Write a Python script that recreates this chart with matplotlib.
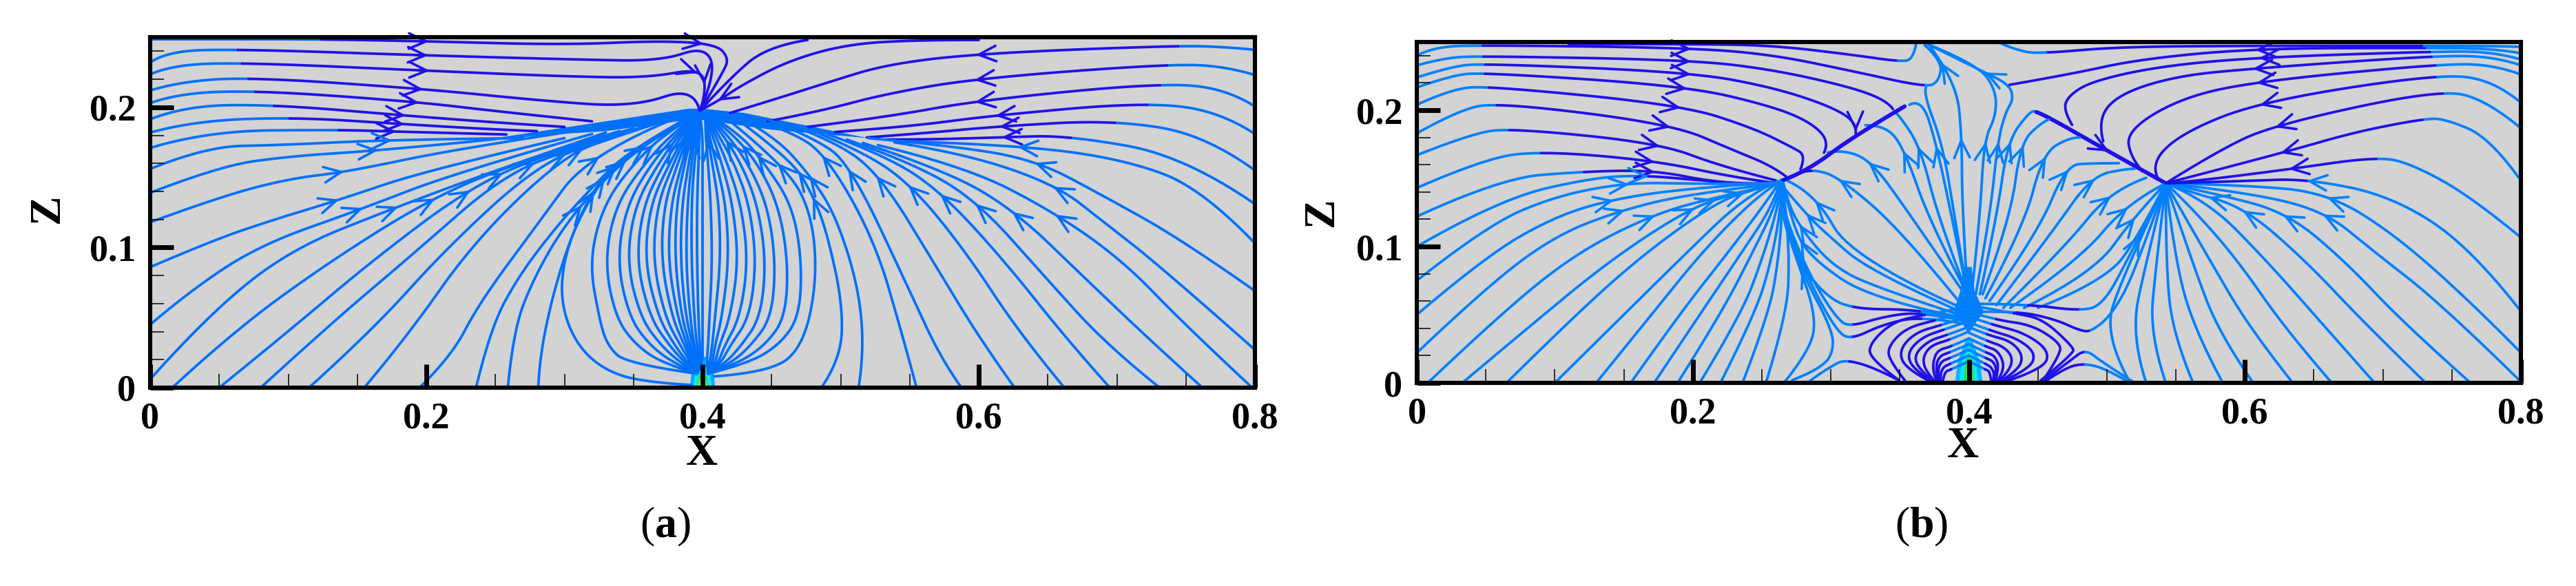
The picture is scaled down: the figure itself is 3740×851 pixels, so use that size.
import numpy as np
import matplotlib
matplotlib.use('Agg')
import matplotlib.pyplot as plt

plt.rcParams['font.family'] = ['Liberation Serif', 'DejaVu Serif']
plt.rcParams['mathtext.fontset'] = 'custom'
plt.rcParams['mathtext.rm'] = 'Liberation Serif'
plt.rcParams['mathtext.bf'] = 'Liberation Serif:bold'

LIGHT_A = '#0070fb'
LIGHT_B = '#0080ff'
DARK = '#2010e8'
GREY = '#d3d3d3'

x_ticks = [0, 0.2, 0.4, 0.6, 0.8]
x_labels = ['0', '0.2', '0.4', '0.6', '0.8']
z_ticks = [0, 0.1, 0.2]
z_labels = ['0', '0.1', '0.2']

# panel (a): streamlines, all in flow direction
a_light = [
    [(0, .2485), (.06, .2485), (.125, .2485)],
    [(0, .232), (.012, .24), (.063, .2415)],
    [(0, .2235), (.015, .23), (.066, .232)],
    [(0, .212), (.02, .218), (.0716, .2216)],
    [(0, .203), (.02, .21), (.0787, .212)],
    [(0, .1915), (.025, .201), (.0887, .202)],
    [(0, .182), (.03, .19), (.103, .193)],
    [(0, .171), (.04, .183), (.1345, .184)],
    [(0, .156), (.04, .172), (.094, .173), (.1775, .177), (.27, .178)],
    [(0, .139), (.05, .158), (.1, .165), (.163, .169), (.27, .179), (.34, .188)],
    [(0, .118), (.05, .136), (.1, .149), (.143, .154), (.22, .17), (.32, .185)],
    [(0, .086), (.045, .105), (.09, .12), (.137, .134), (.2, .155), (.3, .178)],
    [(0, .045), (.03, .07), (.08, .102), (.152, .127), (.22, .153), (.32, .181)],
    [(0, .006), (.04, .05), (.1, .098), (.1775, .1285), (.25, .155), (.33, .182)],
    [(.016, 0), (.06, .04), (.13, .09), (.205, .136), (.27, .162), (.34, .183)],
    [(.05, 0), (.1, .04), (.16, .09), (.231, .1426), (.29, .168), (.35, .185)],
    [(.08, 0), (.13, .045), (.19, .095), (.256, .152), (.31, .172), (.36, .187)],
    [(.115, 0), (.16, .04), (.215, .1), (.28, .1586), (.33, .178), (.37, .19)],
    [(.155, 0), (.185, .035), (.235, .105), (.30, .166), (.34, .18), (.375, .191)],
    [(.195, 0), (.218, .022), (.238, .06), (.28, .116), (.318, .167), (.38, .192)],
    [(.236, 0), (.246, .041), (.266, .0786), (.295, .116), (.323, .146), (.347, .169), (.385, .19)],
    [(.259, 0), (.263, .041), (.278, .0786), (.30, .116), (.33, .15), (.36, .175), (.39, .192)],
    [(.281, 0), (.282, .02), (.29, .06), (.302, .1), (.317, .135), (.34, .165), (.385, .19)],
    [(.392, .002), (.37, .003), (.335, .009), (.31, .028), (.297, .06), (.30, .095), (.315, .13), (.34, .165), (.385, .19)],
    [(.8, .241), (.78, .243), (.742, .244)],
    [(.8, .223), (.78, .229), (.739, .231)],
    [(.8, .2006), (.78, .213), (.732, .2175)],
    [(.8, .181), (.775, .197), (.72, .2037)],
    [(.8, .155), (.765, .18), (.698, .191)],
    [(.8, .131), (.75, .165), (.665, .18)],
    [(.8, .103), (.762, .142), (.705, .163), (.626, .1733), (.539, .176)],
    [(.8, .069), (.748, .105), (.69, .137), (.64, .163), (.576, .173), (.52, .178)],
    [(.8, .027), (.7335, .085), (.69, .1186), (.656, .1447), (.59, .167), (.539, .175)],
    [(.798, 0), (.748, .046), (.705, .09), (.655, .125), (.59, .158), (.527, .173)],
    [(.762, 0), (.725, .033), (.676, .079), (.626, .1264), (.576, .155), (.516, .1746)],
    [(.731, 0), (.693, .03), (.648, .079), (.599, .133), (.553, .16), (.5045, .177)],
    [(.695, 0), (.665, .033), (.619, .09), (.573, .1395), (.533, .1655), (.49, .181)],
    [(.662, 0), (.63, .038), (.59, .098), (.55, .146), (.513, .17), (.473, .186)],
    [(.626, 0), (.602, .033), (.57, .085), (.529, .1512), (.496, .176), (.459, .189)],
    [(.5875, 0), (.573, .02), (.55, .069), (.507, .159), (.4816, .178), (.447, .1915)],
    [(.555, 0), (.5446, .038), (.5245, .1056), (.489, .167), (.4616, .1837), (.433, .193)],
    [(.513, 0), (.517, .025), (.513, .0718), (.496, .124), (.477, .1525), (.453, .1785), (.427, .193)],
    [(.486, 0), (.5, .02), (.5016, .059), (.49, .111), (.48, .137), (.4644, .163), (.4215, .194)],
    [(.408, .008), (.45, .011), (.473, .03), (.483, .077), (.479, .125), (.46, .158), (.42, .19)],
]
a_dark = [
    [(.125, .2485), (.203, .247), (.30, .2445), (.37, .2475), (.41, .245), (.419, .235), (.415, .225), (.398, .197)],
    [(.063, .2415), (.2, .237), (.31, .234), (.37, .233), (.4015, .2436), (.41, .225), (.398, .197)],
    [(.066, .232), (.203, .226), (.3, .222), (.36, .221), (.3986, .228), (.403, .212), (.398, .197)],
    [(.0716, .2216), (.2, .213), (.28, .205), (.35, .2), (.3943, .215), (.398, .197)],
    [(.0787, .212), (.192, .204), (.252, .197), (.32, .19)],
    [(.0887, .202), (.186, .194), (.252, .189), (.30, .186)],
    [(.103, .193), (.183, .188), (.252, .184), (.28, .183)],
    [(.1345, .184), (.183, .1825), (.258, .1806)],
    [(.476, .248), (.447, .2436), (.419, .22), (.3986, .198)],
    [(.6, .248), (.555, .248), (.5045, .245), (.4616, .233), (.427, .215), (.4115, .2045), (.3986, .198)],
    [(.742, .244), (.6, .2384), (.533, .2306), (.49, .2175), (.45, .205), (.42, .196)],
    [(.739, .231), (.599, .2207), (.533, .2097), (.4845, .197), (.447, .19)],
    [(.732, .2175), (.6, .205), (.533, .193), (.476, .186)],
    [(.72, .2037), (.609, .194), (.5475, .186), (.496, .1824)],
    [(.698, .191), (.613, .1863), (.5618, .1816), (.519, .1785)],
    [(.665, .18), (.615, .1785), (.5618, .177), (.533, .177)],
]
a_nest_z = [.017, .03, .05, .09, .13, .16, .183]
a_nest_left = [
    [.345, .331, .325, .318, .328, .35, .375],
    [.372, .352, .337, .329, .337, .358, .38],
    [.38, .362, .347, .338, .345, .363, .383],
    [.385, .37, .355, .345, .351, .368, .385],
    [.388, .376, .362, .352, .357, .372, .387],
    [.39, .38, .368, .358, .362, .376, .389],
    [.392, .384, .373, .364, .367, .379, .39],
    [.393, .387, .378, .37, .372, .382, .391],
    [.394, .389, .382, .375, .377, .385, .392],
    [.395, .391, .385, .38, .381, .387, .393],
    [.396, .393, .388, .384, .385, .39, .394],
    [.397, .394, .391, .388, .389, .392, .395],
    [.398, .396, .394, .392, .392, .394, .397],
    [.399, .398, .397, .396, .396, .397, .398],
    [.4, .4, .4, .4, .4, .4, .4],
]
a_nest_right = [
    [.432, .455, .47, .472, .465, .445, .425],
    [.425, .445, .46, .462, .455, .44, .42],
    [.42, .435, .45, .453, .447, .433, .416],
    [.416, .428, .442, .446, .44, .428, .413],
    [.413, .42, .434, .439, .434, .423, .41],
    [.411, .416, .427, .433, .428, .418, .408],
    [.409, .412, .42, .426, .422, .414, .406],
    [.407, .409, .414, .419, .417, .41, .404],
    [.405, .407, .409, .413, .412, .407, .403],
    [.403, .404, .405, .407, .406, .404, .402],
]
a_ridge_x = [.25, .33, .39, .4, .43, .52, .45, .40, .39, .33, .25]
a_ridge_z = [.178, .190, .199, .199, .196, .178, .184, .191, .191, .183, .178]
a_arrows = [
    (.2033, .247), (.2019, .2376), (.2, .2264), (.2, .2135), (.192, .2047), (.1875, .1967), (.186, .1896),
    (.1815, .1839), (.176, .178), (.166, .169), (.143, .153), (.137, .1304), (.152, .1266), (.1775, .1285),
    (.205, .136), (.231, .1426), (.256, .152), (.28, .1586), (.30, .166), (.314, .168), (.321, .167),
    (.33, .15), (.322, .14), (.312, .131), (.338, .158), (.347, .1616), (.358, .171), (.366, .173),
    (.378, .175), (.388, .179), (.395, .179), (.4015, .2436), (.3986, .228), (.3943, .215), (.4115, .2045),
    (.6, .2384), (.599, .2207), (.6, .205), (.609, .194), (.613, .1863), (.615, .1785), (.626, .1733),
    (.64, .163), (.656, .1447), (.655, .125), (.626, .1264), (.599, .133), (.573, .1395), (.55, .146),
    (.529, .1512), (.507, .159), (.489, .167), (.477, .1525), (.48, .137), (.466, .1525), (.4516, .159),
    (.4387, .1655), (.427, .172), (.4158, .176), (.4043, .177),
]

# panel (b)
b_light = [
    [(0, .24), (.012, .2465), (.05, .2477)],
    [(0, .2328), (.02, .2385), (.048, .2397)],
    [(0, .224), (.025, .232), (.048, .2343)],
    [(0, .2167), (.025, .2255), (.048, .2277)],
    [(0, .204), (.025, .2155), (.052, .2178)],
    [(0, .183), (.03, .2), (.059, .2058)],
    [(0, .167), (.04, .183), (.069, .1868)],
    [(0, .143), (.05, .165), (.092, .17)],
    [(0, .122), (.06, .15), (.12, .155)],
    [(0, .1), (.06, .135), (.13, .151), (.167, .152)],
    [(0, .075), (.05, .115), (.1, .137), (.153, .147), (.2, .146), (.25, .146)],
    [(0, .05), (.05, .093), (.1, .122), (.143, .135), (.2, .143), (.26, .147)],
    [(0, .022), (.05, .07), (.1, .108), (.149, .127), (.2, .139), (.26, .146)],
    [(.008, 0), (.06, .05), (.115, .095), (.172, .124), (.22, .137), (.258, .145)],
    [(.033, 0), (.08, .04), (.14, .09), (.199, .1289), (.235, .14), (.26, .146)],
    [(.065, 0), (.115, .05), (.165, .095), (.2176, .1329), (.245, .142), (.262, .147)],
    [(.1, 0), (.145, .045), (.19, .09), (.239, .138), (.262, .148)],
    [(.13, 0), (.17, .05), (.21, .1), (.25, .14), (.264, .148)],
    [(.155, 0), (.19, .05), (.225, .095), (.255, .135), (.264, .149)],
    [(.172, 0), (.205, .05), (.235, .095), (.258, .13), (.264, .149)],
    [(.189, 0), (.22, .05), (.243, .095), (.26, .13), (.265, .149)],
    [(.205, 0), (.235, .05), (.25, .09), (.262, .13), (.265, .149)],
    [(.22, 0), (.245, .05), (.257, .09), (.264, .13), (.265, .149)],
    [(.236, 0), (.255, .05), (.262, .09), (.265, .13), (.265, .149)],
    [(.253, 0), (.268, .05), (.27, .09), (.267, .13), (.265, .149)],
    [(.266, 0), (.286, .025), (.289, .051), (.275, .091), (.262, .131), (.265, .149)],
    [(.272, .002), (.295, .011), (.303, .027), (.298, .045), (.28, .0789), (.266, .123), (.265, .149)],
    [(.283, 0), (.295, .0092), (.315, .02)],
    [(.349, .2357), (.36, .237), (.362, .25)],
    [(.399, .047), (.364, .054)],
    [(.315, .054), (.295, .065), (.275, .091), (.263, .131), (.265, .149)],
    [(.399, .045), (.366, .052)],
    [(.315, .0415), (.306, .045), (.289, .071), (.275, .101), (.263, .135), (.265, .149)],
    [(.399, .043), (.366, .049)],
    [(.315, .0319), (.305, .037), (.286, .071), (.272, .107), (.263, .139), (.265, .149)],
    [(.399, .053), (.315, .091), (.289, .1385), (.269, .148)],
    [(.399, .05), (.329, .081), (.295, .111), (.282, .124), (.266, .143)],
    [(.399, .048), (.329, .071), (.3, .087), (.28, .111), (.269, .131), (.265, .149)],
    [(.399, .047), (.33, .061), (.286, .091), (.272, .115), (.265, .149)],
    [(.399, .052), (.352, .111), (.306, .151), (.286, .157)],
    [(.399, .062), (.355, .127), (.329, .163), (.309, .171), (.298, .169)],
    [(.399, .065), (.372, .117), (.3535, .1708), (.34, .189), (.325, .189)],
    [(.399, .065), (.378, .12), (.365, .1728), (.349, .197), (.346, .199)],
    [(.399, .065), (.388, .12), (.3765, .1748), (.366, .2088), (.357, .204)],
    [(.399, .065), (.39, .12), (.381, .175), (.367, .2125), (.369, .2168)],
    [(.369, .2168), (.378, .2208), (.381, .2358), (.368, .2477)],
    [(.399, .065), (.395, .131), (.395, .179), (.391, .2208), (.372, .2467)],
    [(.402, .065), (.408, .12), (.411, .178), (.4196, .1958), (.4196, .2146), (.4068, .2333), (.37, .2485)],
    [(.405, .065), (.415, .12), (.421, .1771), (.4266, .1985), (.4323, .2079), (.4295, .2186)],
    [(.4295, .2186), (.411, .228), (.37, .2485)],
    [(.408, .065), (.42, .12), (.428, .1771), (.4436, .1985), (.4493, .1998)],
    [(.41, .065), (.43, .12), (.4374, .1758), (.452, .1905), (.4578, .1932)],
    [(.412, .062), (.44, .115), (.4535, .1678), (.4719, .1798), (.4804, .18)],
    [(.415, .06), (.45, .11), (.4705, .1597), (.4889, .1611), (.5087, .1611)],
    [(.42, .057), (.46, .11), (.4889, .1517), (.5144, .1571), (.52, .157)],
    [(.425, .055), (.47, .1), (.5025, .141), (.5285, .1504)],
    [(.43, .055), (.48, .09), (.5144, .1317), (.5427, .1464)],
    [(.44, .055), (.49, .08), (.52, .1223), (.5427, .1464)],
    [(.45, .055), (.5, .075), (.5243, .1103), (.5427, .1464)],
    [(.4, .058), (.4421, .0578)],
    [(.4803, .0527), (.497, .057), (.515, .09), (.5427, .1464)],
    [(.4, .052), (.4338, .0528)],
    [(.4886, .0375), (.5036, .05), (.5202, .0805), (.5427, .1464)],
    [(.4845, .0249), (.497, .0148), (.5202, 0)],
    [(.4845, .0143), (.5003, .0098), (.5169, 0)],
    [(.517, 0), (.4974, .035), (.5115, .0782), (.5427, .1464)],
    [(.5285, 0), (.5172, .035), (.5285, .089), (.5427, .1464)],
    [(.5427, 0), (.531, .035), (.5356, .0862), (.5427, .1464)],
    [(.5625, 0), (.548, .035), (.5427, .0862), (.5427, .1464)],
    [(.584, 0), (.5653, .035), (.5497, .0862), (.5427, .1464)],
    [(.606, 0), (.582, .035), (.5625, .0862), (.5427, .1464)],
    [(.6347, 0), (.605, .038), (.5766, .0862), (.5427, .1464)],
    [(.663, 0), (.6304, .038), (.5936, .0916), (.56, .13), (.5427, .1464)],
    [(.694, 0), (.656, .0434), (.6163, .089), (.5724, .1343), (.5427, .1464)],
    [(.731, 0), (.687, .0434), (.6446, .089), (.5993, .129), (.56, .14), (.5427, .1464)],
    [(.7635, 0), (.7154, .0434), (.6729, .089), (.6304, .125), (.58, .1385), (.5427, .1464)],
    [(.7988, .002), (.7436, .0568), (.6927, .097), (.6573, .1263), (.6, .14), (.5427, .1464)],
    [(.7988, .0234), (.7635, .0596), (.7068, .1103), (.6587, .1397), (.6, .145), (.5427, .1464)],
    [(.7988, .054), (.7635, .0996), (.7068, .137), (.6446, .1498)],
    [(.7988, .1076), (.7635, .137), (.72, .161), (.6955, .1659)],
    [(.7988, .15), (.7776, .1798), (.745, .1937), (.7295, .1937)],
    [(.7988, .1878), (.775, .2075), (.7408, .2153)],
    [(.7988, .2065), (.78, .222), (.74, .2266)],
    [(.7988, .2266), (.78, .2335), (.74, .2338)],
    [(.7988, .2333), (.78, .2395), (.7366, .2399)],
    [(.7988, .2375), (.78, .243), (.735, .243)],
    [(.7988, .242), (.78, .2452), (.73, .2457)],
    [(.7988, .2465), (.77, .2472), (.73, .2472)],
    [(.455, .2418), (.438, .2426), (.4224, .2493)],
]
b_dark = [
    [(.11, .2485), (.2, .2485), (.258, .2475), (.315, .2407), (.349, .2357)],
    [(.05, .2477), (.199, .2457), (.2577, .2407), (.315, .2288), (.369, .2168)],
    [(.048, .2397), (.199, .2368), (.2577, .2298), (.315, .2168), (.341, .2067), (.345, .2008)],
    [(.048, .2343), (.199, .2278), (.2577, .2168), (.3, .2028), (.319, .1908), (.318, .1828)],
    [(.048, .2277), (.195, .2178), (.2577, .2028), (.286, .1908), (.299, .1768), (.295, .1688)],
    [(.052, .2178), (.192, .2038), (.244, .1868), (.272, .1728), (.282, .1668), (.278, .1567)],
    [(.059, .2058), (.185, .1898), (.229, .1708), (.258, .1588), (.268, .151)],
    [(.069, .1868), (.176, .1758), (.22, .1589), (.26, .1485)],
    [(.092, .17), (.173, .1629), (.229, .1509), (.258, .1468)],
    [(.12, .155), (.172, .156), (.216, .147), (.25, .145)],
    [(.167, .152), (.2, .149), (.244, .1455), (.26, .147)],
    [(.286, .157), (.27, .151), (.265, .149)],
    [(.315, .02), (.349, .002)],
    [(.364, .054), (.315, .054)],
    [(.366, .052), (.34, .049), (.315, .0415)],
    [(.366, .049), (.338, .043), (.315, .0319)],
    [(.4338, .0528), (.4621, .0468), (.4803, .0384), (.4886, .0375)],
    [(.4421, .0578), (.4803, .0527)],
    [(.452, 0), (.4737, .0165), (.4845, .0249)],
    [(.4537, 0), (.4703, .0115), (.4845, .0143)],
    [(.73, .2472), (.6035, .2472), (.51, .2465), (.455, .2418)],
    [(.73, .2457), (.6064, .2453), (.523, .2373), (.4747, .2266), (.4295, .2186)],
    [(.735, .243), (.6064, .2386), (.537, .232), (.489, .2212), (.472, .2105), (.4685, .2), (.4748, .1892)],
    [(.7366, .2399), (.6064, .2306), (.551, .2252), (.5087, .2119), (.4932, .1932), (.4974, .1771)],
    [(.74, .2338), (.609, .2212), (.554, .2092), (.5144, .1851), (.5172, .1651), (.526, .155)],
    [(.74, .2266), (.612, .2065), (.555, .1838), (.5314, .1611), (.537, .15)],
    [(.7408, .2153), (.6205, .1891), (.58, .17), (.5427, .1464)],
    [(.7295, .1937), (.679, .1838), (.629, .1691), (.5427, .1464)],
    [(.6955, .1659), (.6295, .1563), (.56, .1475), (.5427, .1464)],
    [(.6446, .1498), (.6, .148), (.5427, .1464)],
]
b_ridges = [
    [(.3535, .2028), (.3164, .1808), (.2834, .1558), (.2662, .1489)],
    [(.4493, .1998), (.5, .1704), (.5427, .1464)],
]
b_loops = [
    [(.3672, .0498), (.3457, .0451), (.329, .03), (.3274, .0182), (.349, .0022)],
    [(.3756, .046), (.354, .04), (.3415, .0266), (.3423, .0165), (.354, .0013)],
    [(.3805, .0426), (.3606, .0367), (.349, .0232), (.3548, .0098), (.3739, 0)],
    [(.3822, .0392), (.3656, .0333), (.355, .0216), (.3598, .0098), (.3747, 0)],
    [(.3839, .035), (.3706, .0308), (.3598, .0199), (.3648, .0089), (.3756, 0)],
    [(.3864, .0317), (.3722, .0274), (.3664, .0182), (.3689, .0081), (.3764, 0)],
    [(.3872, .0266), (.3772, .024), (.3739, .0148), (.3747, .0059), (.3772, 0)],
    [(.3864, .0224), (.3789, .0199), (.3756, .0115), (.378, 0)],
    [(.3864, .0182), (.3797, .0157), (.3772, .0081), (.3789, 0)],
    [(.3864, .014), (.3814, .0115), (.3792, .0059), (.3797, 0)],
    [(.3872, .0098), (.3822, .0081), (.3809, 0)],
    [(.4338, .051), (.4537, .0468), (.4753, .0266), (.4761, .0216), (.452, .0017)],
    [(.4205, .046), (.4454, .0426), (.4653, .03), (.467, .0216), (.4537, .0017)],
    [(.4171, .0426), (.4404, .0367), (.4587, .0232), (.4537, .0098), (.4238, 0)],
    [(.4155, .0384), (.4354, .0325), (.4487, .0216), (.4437, .0098), (.4221, 0)],
    [(.4138, .035), (.4304, .0308), (.4396, .0199), (.4354, .0089), (.4213, 0)],
    [(.413, .0308), (.4254, .0266), (.4321, .0182), (.4288, .0081), (.4205, 0)],
    [(.4121, .0266), (.4205, .024), (.4254, .0148), (.4238, .0059), (.4196, 0)],
    [(.4121, .0224), (.4188, .0199), (.4221, .0115), (.4188, 0)],
    [(.4121, .0182), (.418, .0157), (.4205, .0081), (.418, 0)],
    [(.4121, .014), (.4163, .0115), (.4188, .0059), (.4171, 0)],
    [(.4121, .0098), (.4155, .0081), (.4163, 0)],
]
b_fan_x = [.396, .402, .404, .411, .405, .4, .395, .389, .394]
b_fan_z = [.085, .085, .068, .052, .044, .036, .044, .052, .068]
b_arrows = [
    (.199, .2457), (.199, .2368), (.199, .2278), (.195, .2178), (.192, .2038), (.185, .1898), (.176, .1758),
    (.173, .1629), (.174, .156), (.168, .1525), (.153, .147), (.143, .135), (.149, .127), (.172, .124),
    (.199, .1289), (.2176, .1329), (.239, .138), (.3535, .1708), (.365, .1728), (.3765, .1748), (.395, .179),
    (.411, .178), (.329, .163), (.306, .151), (.2906, .137), (.282, .124), (.276, .115), (.276, .105),
    (.279, .085), (.381, .2358), (.4111, .228), (.421, .1771), (.428, .1771), (.4374, .1758), (.4535, .1678),
    (.4705, .1597), (.4889, .1517), (.5025, .141), (.5144, .1317), (.52, .1223), (.5243, .1103),
    (.3161, .184), (.5, .1704),
    (.6064, .2453), (.6064, .2386), (.6064, .2306), (.609, .2212), (.612, .2065), (.6205, .1891), (.629, .1691),
    (.6295, .1563), (.6446, .1498), (.6587, .1397), (.6573, .1263), (.6304, .125), (.5993, .129), (.5724, .1343),
]

# coloured source at the floor, x and z of each nested outline
a_src = [
    ('#00a8ff', [.391, .392, .398, .403, .408, .409], [0, .012, .022, .022, .012, 0]),
    ('#10e8e8', [.393, .395, .4, .405, .407], [0, .012, .017, .012, 0]),
    ('#20e060', [.396, .397, .4, .403, .404], [0, .008, .013, .008, 0]),
    ('#e8e020', [.397, .398, .402, .403], [0, .006, .006, 0]),
]
b_src = [
    ('#00b8ff', [.39, .392, .398, .402, .408, .41], [0, .016, .032, .032, .016, 0]),
    ('#10e8e8', [.393, .395, .4, .405, .407], [0, .016, .027, .016, 0]),
    ('#20e060', [.396, .397, .4, .403, .404], [0, .012, .022, .012, 0]),
]


def smooth(pts):
    p = np.array(pts, float)
    if len(p) < 3:
        return p
    mids = (p[:-1] + p[1:]) / 2
    mids[0] = p[0]
    mids[-1] = p[-1]
    t = np.linspace(0, 1, 14)[:, None]
    out = []
    for i in range(1, len(p) - 1):
        out.append((1 - t) ** 2 * mids[i - 1] + 2 * t * (1 - t) * p[i] + t ** 2 * mids[i])
    return np.vstack(out)


def nest_lines(rows, levels, start, end):
    lines = []
    for row in rows:
        lines.append([start] + list(zip(row, levels)) + [end])
    return lines


def loop_links(loops):
    # short light piece from the axis of the source to the top of each dark loop
    return [[(.4, lp[0][1] + .006), lp[0]] for lp in loops]


def make_chains(groups):
    # pieces of one streamline share an end point: join them so the bend stays smooth at a colour change
    pieces = []
    for lines, color, lw in groups:
        for pts in lines:
            pieces.append(dict(pts=pts, color=color, lw=lw, used=False))
    starts = set(tuple(q['pts'][0]) for q in pieces)
    ends = set(tuple(q['pts'][-1]) for q in pieces)
    chains = []
    for q in pieces:
        if tuple(q['pts'][0]) in ends:
            continue
        chain = [q]
        q['used'] = True
        while tuple(chain[-1]['pts'][-1]) in starts:
            nxt = [r for r in pieces if not r['used'] and r['pts'][0] == chain[-1]['pts'][-1]]
            if not nxt:
                break
            nxt[0]['used'] = True
            chain.append(nxt[0])
        chains.append(chain)
    for q in pieces:
        if not q['used']:
            chains.append([q])
    return chains


def setup(ax):
    ax.set_xlim(0, 0.8)
    ax.set_ylim(0, 0.25)
    ax.set_facecolor(GREY)
    for s in ax.spines.values():
        s.set_linewidth(4.4)
        s.set_zorder(10)
    ax.set_xticks(x_ticks)
    ax.set_xticklabels(x_labels)
    ax.set_yticks(z_ticks)
    ax.set_yticklabels(z_labels)
    ax.set_xticks(np.arange(0.05, 0.8, 0.05), minor=True)
    ax.set_yticks(np.arange(0.02, 0.25, 0.02), minor=True)
    ax.tick_params(which='major', direction='in', length=24.5, width=5, labelsize=39, pad=15)
    ax.tick_params(which='minor', direction='in', length=14.4, width=1.1)
    ax.xaxis.set_zorder(9)
    ax.yaxis.set_zorder(9)
    for lab in ax.get_xticklabels() + ax.get_yticklabels():
        lab.set_fontweight('bold')


def draw_lines(ax, groups, arrows):
    drawn = []
    for chain in make_chains(groups):
        pts = list(chain[0]['pts'])
        for q in chain[1:]:
            pts += list(q['pts'][1:])
        c = smooth(pts)
        i0 = 0
        for k, q in enumerate(chain):
            if k == len(chain) - 1:
                i1 = len(c) - 1
            else:
                joint = np.array(q['pts'][-1])
                i1 = i0 + int(np.hypot(*(c[i0:] - joint).T).argmin())
            seg = c[i0:i1 + 1]
            ax.plot(seg[:, 0], seg[:, 1], color=q['color'], lw=q['lw'], solid_capstyle='round', zorder=3)
            drawn.append((seg, q['color']))
            i0 = i1
    for ax_x, ax_z in arrows:
        best = None
        for c, color in drawn:
            if len(c) < 2:
                continue
            d = np.hypot(c[:, 0] - ax_x, c[:, 1] - ax_z)
            i = int(d.argmin())
            if best is None or d[i] < best[0]:
                best = (d[i], c, i, color)
        _, c, i, color = best
        i = max(i, 1)
        ax.annotate('', xy=c[i], xytext=c[i - 1],
                    arrowprops=dict(arrowstyle='->,head_length=0.6,head_width=0.27', color=color,
                                    lw=2.6, mutation_scale=30, shrinkA=0, shrinkB=0), zorder=4)


def draw_source(ax, src):
    for color, xs, zs in src:
        ax.fill(xs, zs, color=color, lw=0, zorder=2)


W, H = 3740, 851
fig = plt.figure(figsize=(W / 100, H / 100), dpi=100)

ax1 = fig.add_axes([218 / W, (H - 563) / H, 1604 / W, 509 / H])
setup(ax1)
draw_source(ax1, a_src)
ax1.fill(a_ridge_x, a_ridge_z, color=LIGHT_A, lw=0, zorder=3)
a_all = a_light + nest_lines(a_nest_left, a_nest_z, (.396, .01), (.398, .196)) \
    + nest_lines(a_nest_right, a_nest_z, (.404, .01), (.402, .196))
draw_lines(ax1, [(a_all, LIGHT_A, 2.7), (a_dark, DARK, 2.7)], a_arrows)

ax2 = fig.add_axes([2057 / W, (H - 556) / H, 1603 / W, 495 / H])
setup(ax2)
draw_source(ax2, b_src)
ax2.fill(b_fan_x, b_fan_z, color=LIGHT_B, lw=0, zorder=3)
draw_lines(ax2, [(b_light + loop_links(b_loops), LIGHT_B, 2.7), (b_dark, DARK, 2.7), (b_loops, DARK, 2.7),
                 (b_ridges, DARK, 4.2)], b_arrows)

fig.text(1019 / W, 1 - 660 / H, 'X', fontsize=46, fontweight='bold', ha='center', va='center')
fig.text(2850 / W, 1 - 649 / H, 'X', fontsize=46, fontweight='bold', ha='center', va='center')
fig.text(70 / W, 1 - 303 / H, 'Z', fontsize=46, fontweight='bold', rotation=90, ha='center', va='center')
fig.text(1920 / W, 1 - 308 / H, 'Z', fontsize=46, fontweight='bold', rotation=90, ha='center', va='center')
fig.text(966 / W, 1 - 765 / H, r'$\mathrm{(}\mathbf{a}\mathrm{)}$', fontsize=46, ha='center', va='center')
fig.text(2790 / W, 1 - 765 / H, r'$\mathrm{(}\mathbf{b}\mathrm{)}$', fontsize=46, ha='center', va='center')

fig.savefig('out.png', dpi=100)
